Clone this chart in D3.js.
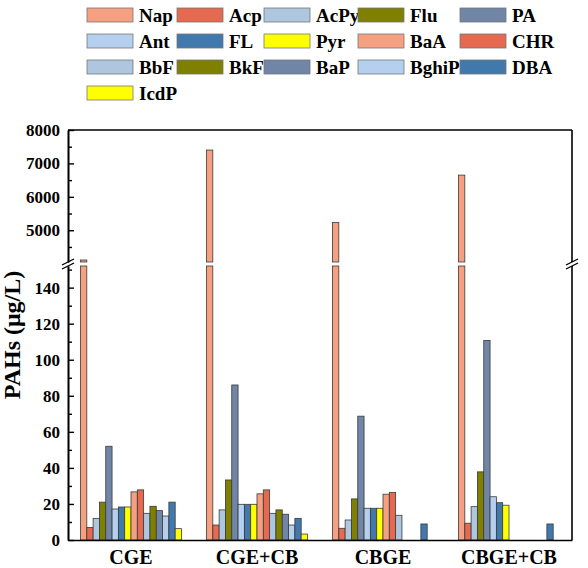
<!DOCTYPE html>
<html>
<head>
<meta charset="utf-8">
<script src="https://cdn.jsdelivr.net/npm/d3@7"></script>
<style>
body { margin: 0; background: #fff; }
svg text { font-family: "Times New Roman", "Liberation Serif", serif; font-weight: bold; fill: #000; }
</style>
</head>
<body>
<div id="chart"></div>
<script>
/***********************************************************************/
//Data
/***********************************************************************/
const groups = ['CGE', 'CGE+CB', 'CBGE', 'CBGE+CB']
const compounds = ['Nap', 'Acp', 'AcPy', 'Flu', 'PA', 'Ant', 'FL', 'Pyr', 'BaA', 'CHR', 'BbF', 'BkF', 'BaP', 'BghiP', 'DBA', 'IcdP']
const compoundColors = ['#f5a080', '#e56a50', '#aec7df', '#7f7f00', '#7186a6', '#b5d0ef', '#4279ad', '#ffff00',
	'#f5a080', '#e56a50', '#aec7df', '#7f7f00', '#7186a6', '#b5d0ef', '#4279ad', '#ffff00']

const valuesCGE = [4110, 7, 12, 21, 52, 17.2, 18.3, 18.3, 26.7, 27.8, 14.8, 18.7, 16.3, 13.3, 21, 6.3]
const valuesCGECB = [7400, 8.3, 16.7, 33.3, 86, 19.8, 19.8, 19.8, 25.6, 27.8, 14.8, 16.7, 14.3, 8.3, 12, 3.3]
const valuesCBGE = [5230, 6.5, 11.1, 22.8, 68.7, 17.6, 17.6, 17.6, 25.4, 26.3, 13.7, 0, 0, 0, 8.9, 0]
const valuesCBGECB = [6650, 9.3, 18.5, 37.8, 110.7, 24, 20.7, 19.3, 0, 0, 0, 0, 0, 0, 8.9, 0]
const groupValues = [valuesCGE, valuesCGECB, valuesCBGE, valuesCBGECB]

const upperTicks = [5000, 6000, 7000, 8000]
const upperMinor = [4500, 5500, 6500, 7500]
const lowerTicks = [0, 20, 40, 60, 80, 100, 120, 140]
const lowerMinor = [10, 30, 50, 70, 90, 110, 130, 150]

/***********************************************************************/
//Plot Area
/***********************************************************************/
const width = 588
const height = 568
const plotLeft = 68, plotRight = 572, plotTop = 130, plotBottom = 540
const breakTop = 262, breakBottom = 266

const svg = d3.select('#chart').append('svg')
	.attr('width', width)
	.attr('height', height)

/***********************************************************************/
//Scales
/***********************************************************************/
const xScale = d3.scaleBand().domain(groups).range([plotLeft, plotRight])
const xInner = d3.scaleBand().domain(compounds).range([12.5, xScale.bandwidth() - 12.5])

const yLow = d3.scaleLinear().domain([0, 152]).range([plotBottom, breakBottom])
const yUp = d3.scaleLinear().domain([4050, 8000]).range([breakTop, plotTop])

/***********************************************************************/
//Bars
/***********************************************************************/
const gBars = svg.append('g')

groups.forEach((grp, gi) => {
	groupValues[gi].forEach((v, i) => {
		if (!v) return
		const x = xScale(grp) + xInner(compounds[i])
		const w = xInner.bandwidth()
		const attrs = sel => sel
			.attr('x', x)
			.attr('width', w)
			.attr('fill', compoundColors[i])
			.attr('stroke', '#3a3a3a')
			.attr('stroke-width', 0.8)
		if (v <= yLow.domain()[1]) {
			gBars.append('rect').call(attrs)
				.attr('y', yLow(v))
				.attr('height', plotBottom - yLow(v))
		} else {
			gBars.append('rect').call(attrs)
				.attr('y', breakBottom)
				.attr('height', plotBottom - breakBottom)
			gBars.append('rect').call(attrs)
				.attr('y', yUp(v))
				.attr('height', breakTop - yUp(v))
		}
	})
})

/***********************************************************************/
//Axes
/***********************************************************************/
const axisStyle = g => {
	g.selectAll('path').attr('stroke', '#000').attr('stroke-width', 1.6)
	g.selectAll('line').attr('stroke', '#000').attr('stroke-width', 1.4)
	g.selectAll('text').style('font-size', '17px').attr('font-family', null)
}
const intFormat = d3.format('d')

svg.append('g').attr('transform', `translate(${plotLeft},0)`)
	.call(d3.axisLeft(yUp).tickValues(upperMinor).tickSize(-4).tickFormat('').tickSizeOuter(0))
	.call(axisStyle)
svg.append('g').attr('transform', `translate(${plotLeft},0)`)
	.call(d3.axisLeft(yUp).tickValues(upperTicks).tickSize(-6).tickPadding(8).tickFormat(intFormat).tickSizeOuter(0))
	.call(axisStyle)
svg.append('g').attr('transform', `translate(${plotLeft},0)`)
	.call(d3.axisLeft(yLow).tickValues(lowerMinor).tickSize(-4).tickFormat('').tickSizeOuter(0))
	.call(axisStyle)
svg.append('g').attr('transform', `translate(${plotLeft},0)`)
	.call(d3.axisLeft(yLow).tickValues(lowerTicks).tickSize(-6).tickPadding(8).tickFormat(intFormat).tickSizeOuter(0))
	.call(axisStyle)

const xAxisG = svg.append('g').attr('transform', `translate(0,${plotBottom})`)
	.call(d3.axisBottom(xScale).tickSize(0).tickPadding(10).tickSizeOuter(0))
	.call(axisStyle)
xAxisG.selectAll('text').style('font-size', '20px').attr('dy', '0.71em')

// frame: top and right
const frame = svg.append('g').attr('stroke', '#000').attr('stroke-width', 1.6)
frame.append('line').attr('x1', plotLeft).attr('x2', plotRight).attr('y1', plotTop).attr('y2', plotTop)
frame.append('line').attr('x1', plotRight).attr('x2', plotRight).attr('y1', plotTop).attr('y2', breakTop)
frame.append('line').attr('x1', plotRight).attr('x2', plotRight).attr('y1', breakBottom).attr('y2', plotBottom)

// break marks
;[plotLeft, plotRight].forEach(x => {
	[breakTop, breakBottom].forEach(y => {
		svg.append('line')
			.attr('x1', x - 6).attr('y1', y + 3)
			.attr('x2', x + 6).attr('y2', y - 3)
			.attr('stroke', '#000').attr('stroke-width', 1.3)
	})
})

// y title
svg.append('text')
	.attr('transform', 'translate(20,335) rotate(-90)')
	.attr('text-anchor', 'middle')
	.style('font-size', '24px')
	.text('PAHs (μg/L)')

/***********************************************************************/
//Legend
/***********************************************************************/
const legendCols = [87, 177, 264, 358, 460]
const legendRows = [15, 41, 67, 93]
const gLegend = svg.append('g')
compounds.forEach((c, i) => {
	const lx = legendCols[i % 5]
	const ly = legendRows[Math.floor(i / 5)]
	gLegend.append('rect')
		.attr('x', lx).attr('y', ly - 7)
		.attr('width', 46).attr('height', 14)
		.attr('fill', compoundColors[i])
		.attr('stroke', '#777').attr('stroke-width', 0.8)
	gLegend.append('text')
		.attr('x', lx + 52).attr('y', ly)
		.attr('dy', '0.35em')
		.style('font-size', '19px')
		.text(c)
})
</script>
</body>
</html>
